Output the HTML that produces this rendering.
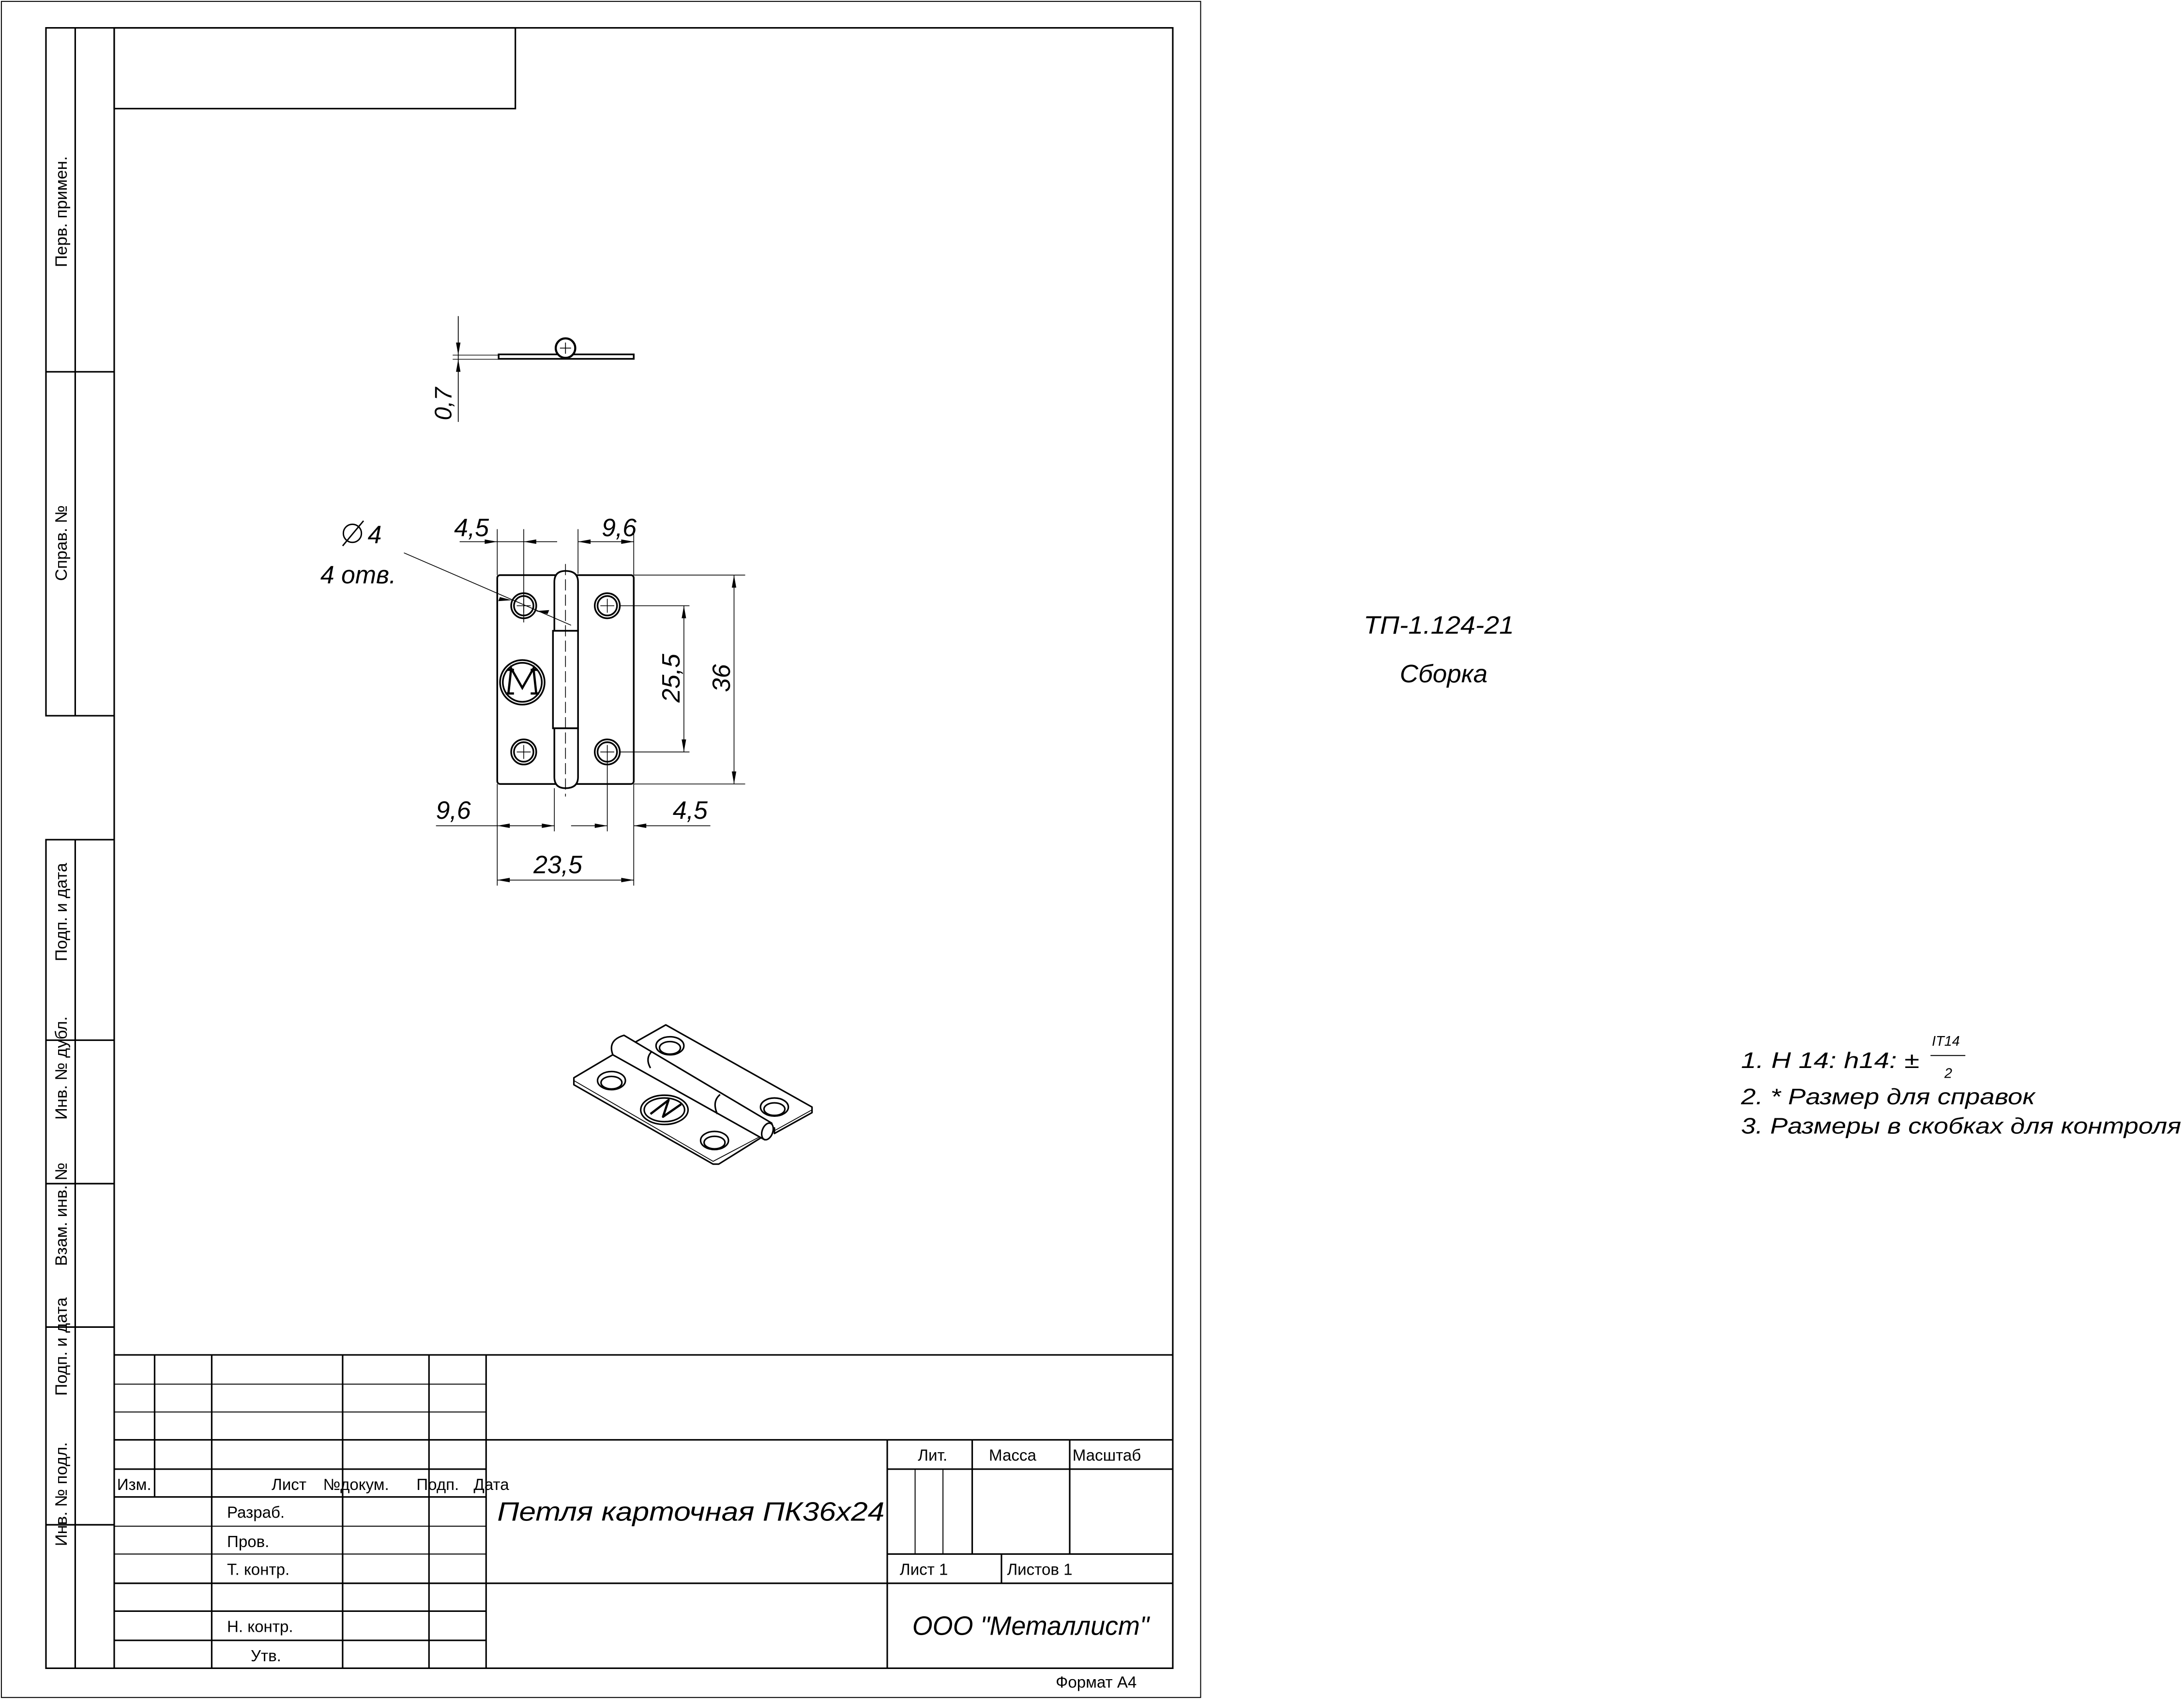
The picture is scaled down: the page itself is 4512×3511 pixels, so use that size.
<!DOCTYPE html>
<html><head><meta charset="utf-8"><style>
html,body{margin:0;padding:0;background:#fff}
svg{display:block}
text{font-family:"Liberation Sans",sans-serif;fill:#000}
.i{font-style:italic}
</style></head><body>
<svg xmlns="http://www.w3.org/2000/svg" width="4512" height="3511" viewBox="0 0 1568 1220.1" preserveAspectRatio="none">
<g fill="none" stroke="#000" stroke-width="0.7">
<rect x="1" y="1" width="861" height="1218"/>
</g>
<g fill="none" stroke="#000" stroke-width="1.1">
<rect x="82" y="20" width="760" height="1178"/>
<rect x="82" y="20" width="288" height="58"/>
<polyline points="82,20 33,20 33,514 82,514"/>
<line x1="54" y1="20" x2="54" y2="514"/>
<line x1="33" y1="267" x2="82" y2="267"/>
<polyline points="82,603 33,603 33,1198 82,1198"/>
<line x1="54" y1="603" x2="54" y2="1198"/>
<line x1="33" y1="747" x2="82" y2="747"/>
<line x1="33" y1="850" x2="82" y2="850"/>
<line x1="33" y1="953" x2="82" y2="953"/>
<line x1="33" y1="1095" x2="82" y2="1095"/>
<line x1="82" y1="973" x2="842" y2="973"/>
<line x1="349" y1="1034" x2="842" y2="1034"/>
<line x1="349" y1="1137" x2="842" y2="1137"/>
<line x1="111" y1="973" x2="111" y2="1075"/>
<line x1="152" y1="973" x2="152" y2="1198"/>
<line x1="246" y1="973" x2="246" y2="1198"/>
<line x1="308" y1="973" x2="308" y2="1198"/>
<line x1="349" y1="973" x2="349" y2="1198"/>
<line x1="637" y1="1034" x2="637" y2="1198"/>
<line x1="637" y1="1055" x2="842" y2="1055"/>
<line x1="637" y1="1116" x2="842" y2="1116"/>
<line x1="698" y1="1034" x2="698" y2="1116"/>
<line x1="768" y1="1034" x2="768" y2="1116"/>
<line x1="719" y1="1116" x2="719" y2="1137"/>
</g>
<g fill="none" stroke="#000" stroke-width="0.7">
<line x1="657" y1="1055" x2="657" y2="1116"/>
<line x1="677" y1="1055" x2="677" y2="1116"/>
<line x1="82" y1="994" x2="349" y2="994"/>
<line x1="82" y1="1014" x2="349" y2="1014"/>
<line x1="82" y1="1096" x2="349" y2="1096"/>
<line x1="82" y1="1116" x2="349" y2="1116"/>
</g>
<g fill="none" stroke="#000" stroke-width="1.1">
<line x1="82" y1="1034" x2="349" y2="1034"/>
<line x1="82" y1="1055" x2="349" y2="1055"/>
<line x1="82" y1="1075" x2="349" y2="1075"/>
<line x1="82" y1="1137" x2="349" y2="1137"/>
<line x1="82" y1="1157" x2="349" y2="1157"/>
<line x1="82" y1="1178" x2="349" y2="1178"/>
</g>
<g font-size="12">
<text transform="translate(48,152) rotate(-90)" text-anchor="middle">Перв. примен.</text>
<text transform="translate(48,390) rotate(-90)" text-anchor="middle">Справ. №</text>
<text transform="translate(48,655) rotate(-90)" text-anchor="middle">Подп. и дата</text>
<text transform="translate(48,767) rotate(-90)" text-anchor="middle">Инв. № дубл.</text>
<text transform="translate(48,872) rotate(-90)" text-anchor="middle">Взам. инв. №</text>
<text transform="translate(48,967) rotate(-90)" text-anchor="middle">Подп. и дата</text>
<text transform="translate(48,1073) rotate(-90)" text-anchor="middle">Инв. № подл.</text>
</g>
<g font-size="11.5">
<text x="84" y="1070">Изм.</text>
<text x="195" y="1070">Лист</text>
<text x="232" y="1070">№докум.</text>
<text x="299" y="1070">Подп.</text>
<text x="340" y="1070">Дата</text>
<text x="163" y="1090">Разраб.</text>
<text x="163" y="1111">Пров.</text>
<text x="163" y="1131">Т. контр.</text>
<text x="163" y="1172">Н. контр.</text>
<text x="180" y="1193">Утв.</text>
<text x="659" y="1049">Лит.</text>
<text x="710" y="1049">Масса</text>
<text x="770" y="1049">Масштаб</text>
<text x="646" y="1131">Лист 1</text>
<text x="723" y="1131">Листов 1</text>
<text x="758" y="1212">Формат А4</text>
</g>
<text class="i" x="357" y="1092" font-size="19" textLength="278" lengthAdjust="spacingAndGlyphs">Петля карточная ПК36х24</text>
<text class="i" x="655" y="1174" font-size="19" textLength="170" lengthAdjust="spacingAndGlyphs">ООО "Металлист"</text>
<text class="i" x="979" y="455" font-size="18" textLength="108" lengthAdjust="spacingAndGlyphs">ТП-1.124-21</text>
<text class="i" x="1005" y="490" font-size="18" textLength="63" lengthAdjust="spacingAndGlyphs">Сборка</text>
<g class="i" font-size="16">
<text class="i" x="1250" y="767" textLength="128" lengthAdjust="spacingAndGlyphs">1. H 14:  h14: ±</text>
<text class="i" x="1387" y="751" font-size="10">IT14</text>
<text class="i" x="1396" y="774" font-size="10">2</text>
<text class="i" x="1250" y="793" textLength="211" lengthAdjust="spacingAndGlyphs">2. * Размер для справок</text>
<text class="i" x="1250" y="814" textLength="316" lengthAdjust="spacingAndGlyphs">3. Размеры в скобках для контроля</text>
</g>
<line x1="1386" y1="758" x2="1411" y2="758" stroke="#000" stroke-width="0.7"/>

<g stroke="#000" fill="none">
<rect x="358" y="254.5" width="97" height="3.2" stroke-width="1.2"/>
<circle cx="406" cy="250" r="7" fill="#fff" stroke-width="1.5"/>
<line x1="402" y1="250" x2="410" y2="250" stroke-width="0.6"/>
<line x1="406" y1="246" x2="406" y2="254" stroke-width="0.6"/>
<line x1="325" y1="255" x2="358" y2="255" stroke-width="0.5"/>
<line x1="325" y1="258" x2="358" y2="258" stroke-width="0.5"/>
<line x1="329" y1="227" x2="329" y2="303" stroke-width="0.6"/>
</g>
<g fill="#000">
<path d="M329,255 l-1.6,-9 l3.2,0 z"/>
<path d="M329,258 l-1.6,9 l3.2,0 z"/>
</g>
<text class="i" font-size="17" transform="translate(324,290) rotate(-90)" text-anchor="middle">0,7</text>

<g stroke="#000" fill="none" stroke-width="1.2">
<rect x="357" y="413" width="98" height="150" rx="2"/>
<path d="M398,453 V418 Q398,410 406,410 Q415,410 415,418 V453 Z" fill="#fff"/>
<rect x="397" y="453" width="18" height="70" fill="#fff"/>
<path d="M398,523 V558 Q398,566 406,566 Q415,566 415,558 V523 Z" fill="#fff"/>
<circle cx="376" cy="435" r="9"/><circle cx="376" cy="435" r="7"/>
<circle cx="436" cy="435" r="9"/><circle cx="436" cy="435" r="7"/>
<circle cx="376" cy="540" r="9"/><circle cx="376" cy="540" r="7"/>
<circle cx="436" cy="540" r="9"/><circle cx="436" cy="540" r="7"/>
<circle cx="375" cy="490" r="16"/><circle cx="375" cy="490" r="14"/>
<path d="M365,498 L367,480 L375,494 L383,480 L385,498 M363,498 h6 M381,498 h6 M364,481 h5 M381,481 h5" stroke-width="1.6"/>
</g>
<g stroke="#000" fill="none" stroke-width="0.55">
<line x1="406" y1="405" x2="406" y2="572" stroke-dasharray="8,3"/>
<line x1="371" y1="435" x2="381" y2="435"/><line x1="376" y1="430" x2="376" y2="440"/>
<line x1="431" y1="435" x2="441" y2="435"/><line x1="436" y1="430" x2="436" y2="440"/>
<line x1="371" y1="540" x2="381" y2="540"/><line x1="376" y1="535" x2="376" y2="545"/>
<line x1="431" y1="540" x2="441" y2="540"/><line x1="436" y1="535" x2="436" y2="545"/>
<line x1="357" y1="380" x2="357" y2="413"/>
<line x1="376" y1="380" x2="376" y2="447"/>
<line x1="415" y1="380" x2="415" y2="412"/>
<line x1="455" y1="380" x2="455" y2="413"/>
<line x1="330" y1="389" x2="400" y2="389"/>
<line x1="415" y1="389" x2="455" y2="389"/>
<line x1="357" y1="563" x2="357" y2="636"/>
<line x1="398" y1="566" x2="398" y2="597"/>
<line x1="436" y1="545" x2="436" y2="597"/>
<line x1="455" y1="563" x2="455" y2="636"/>
<line x1="313" y1="593" x2="398" y2="593"/>
<line x1="410" y1="593" x2="436" y2="593"/>
<line x1="455" y1="593" x2="510" y2="593"/>
<line x1="357" y1="632" x2="455" y2="632"/>
<line x1="445" y1="435" x2="495" y2="435"/>
<line x1="445" y1="540" x2="495" y2="540"/>
<line x1="491" y1="435" x2="491" y2="540"/>
<line x1="455" y1="413" x2="535" y2="413"/>
<line x1="455" y1="563" x2="535" y2="563"/>
<line x1="527" y1="413" x2="527" y2="563"/>
<line x1="290" y1="397" x2="410" y2="449"/>
</g>
<g fill="#000">
<path d="M357,389 l-9,-1.6 l0,3.2 z"/>
<path d="M376,389 l9,-1.6 l0,3.2 z"/>
<path d="M415,389 l9,-1.6 l0,3.2 z"/>
<path d="M455,389 l-9,-1.6 l0,3.2 z"/>
<path d="M357,593 l9,-1.6 l0,3.2 z"/>
<path d="M398,593 l-9,-1.6 l0,3.2 z"/>
<path d="M436,593 l-9,-1.6 l0,3.2 z"/>
<path d="M455,593 l9,-1.6 l0,3.2 z"/>
<path d="M357,632 l9,-1.6 l0,3.2 z"/>
<path d="M455,632 l-9,-1.6 l0,3.2 z"/>
<path d="M491,435 l-1.6,9 l3.2,0 z"/>
<path d="M491,540 l-1.6,-9 l3.2,0 z"/>
<path d="M527,413 l-1.6,9 l3.2,0 z"/>
<path d="M527,563 l-1.6,-9 l3.2,0 z"/>
<path d="M367.5,431 l-8.6,-2.2 l-1.2,2.9 z"/>
<path d="M384.5,438.8 l8.6,2.2 l1.2,-2.9 z"/>
</g>
<g class="i" font-size="18">
<text class="i" x="326" y="385">4,5</text>
<text class="i" x="432" y="385">9,6</text>
<text class="i" x="313" y="588">9,6</text>
<text class="i" x="483" y="588">4,5</text>
<text class="i" x="383" y="627">23,5</text>
<text class="i" transform="translate(488,487) rotate(-90)" text-anchor="middle">25,5</text>
<text class="i" transform="translate(524,487) rotate(-90)" text-anchor="middle">36</text>
<text class="i" x="230" y="419">4 отв.</text>
<text class="i" x="264" y="390">4</text>
</g>
<g stroke="#000" fill="none" stroke-width="1">
<circle cx="253" cy="383" r="6.5"/><line x1="246" y1="392" x2="261" y2="374"/>
</g>

<!-- isometric view -->
<g stroke="#000" fill="#fff" stroke-width="1.1" stroke-linejoin="round">
<path d="M478,736 L583,795 L583,799 L556,814 L556,810 L548,816 L516,836 L512,836 L412,779 L412,774 L439,758 L455,749 L478,736 Z"/>
<path d="M412,776 L512,834 L548,815" fill="none" stroke-width="0.6"/>
<path d="M556,812 L583,797" fill="none" stroke-width="0.6"/>
<path d="M448,743.5 L554,806.5 Q557,815 549,818.5 L440,757.5 Q436,747 448,743.5 Z"/>
<ellipse cx="551" cy="812.5" rx="3.8" ry="6.2" transform="rotate(20 551 812.5)"/>
<path d="M468,755 Q463,760 467,767" fill="none"/>
<path d="M517,786 Q511,791 515,800" fill="none"/>
<ellipse cx="439" cy="776" rx="10" ry="6.5"/><ellipse cx="439" cy="777.5" rx="7.5" ry="4.5"/>
<ellipse cx="481" cy="751" rx="10" ry="6.5"/><ellipse cx="481" cy="752.5" rx="7.5" ry="4.5"/>
<ellipse cx="513" cy="819" rx="10" ry="6.5"/><ellipse cx="513" cy="820.5" rx="7.5" ry="4.5"/>
<ellipse cx="556" cy="795" rx="10" ry="6.5"/><ellipse cx="556" cy="796.5" rx="7.5" ry="4.5"/>
<ellipse cx="477" cy="797" rx="17" ry="10.5"/><ellipse cx="477" cy="797" rx="14.5" ry="8.5"/>
<path d="M467,800 L480,790 L476,802 L489,793" fill="none" stroke-width="1.6"/>
</g>
</svg>
</body></html>
